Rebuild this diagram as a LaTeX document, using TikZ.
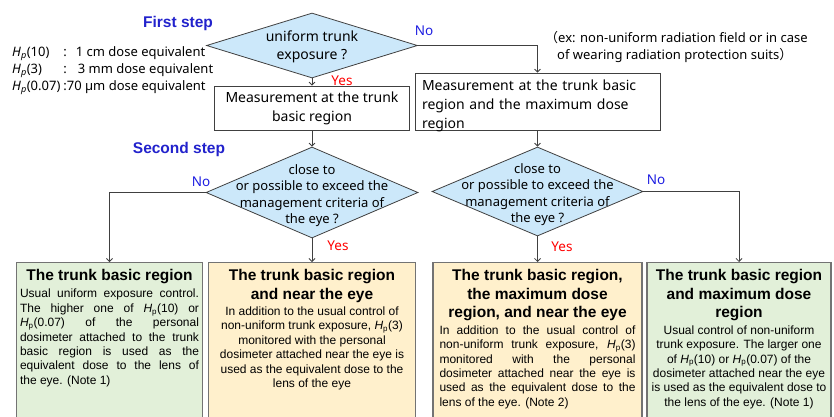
\documentclass[tikz,border=0pt]{standalone}
\usepackage{fontspec}
\setmainfont{Liberation Sans}
\newfontfamily\uifont{Noto Sans}
\newfontfamily\cjk{Noto Sans CJK JP}
\usetikzlibrary{shapes.geometric}
\usetikzlibrary{arrows.meta, positioning}

\definecolor{stepblue}{RGB}{34,34,204}
\definecolor{noblue}{RGB}{30,30,225}
\definecolor{yesred}{RGB}{255,0,0}
\definecolor{qfill}{RGB}{204,232,250}
\definecolor{greenfill}{RGB}{226,240,217}
\definecolor{creamfill}{RGB}{255,240,204}
\definecolor{linegray}{RGB}{64,64,64}
\definecolor{boxgray}{RGB}{115,115,115}

\newcommand{\Hp}{\textit{H}\textsubscript{p}}
\newcommand{\Hpi}{\textit{H\textsubscript{p}}}

\tikzset{
  steplabel/.style={font=\fontsize{15.5}{18}\selectfont\bfseries, text=stepblue, inner sep=0pt},
  decision/.style={diamond, draw=linegray, fill=qfill, line width=0.8pt, inner sep=0pt},
  qtext/.style={font=\uifont\fontsize{13}{16.5}\selectfont, align=center, inner sep=0pt},
  measurebox/.style={rectangle, draw=linegray, line width=0.8pt, inner sep=0pt,
    font=\uifont\fontsize{14}{19}\selectfont},
  resultbox/.style={rectangle, draw=boxgray, line width=1.1pt, anchor=north, minimum height=165pt},
  titletext/.style={font=\fontsize{15.5}{18.7}\selectfont\bfseries, align=center, inner sep=0pt},
  bodytext/.style={font=\fontsize{12}{14.4}\selectfont, inner sep=0pt},
  flow/.style={draw=linegray, line width=0.8pt, -{Straight Barb[length=3pt,width=6pt]}},
  yeslbl/.style={font=\uifont\fontsize{13.5}{16}\selectfont, text=yesred, inner sep=0pt},
  nolbl/.style={font=\uifont\fontsize{13.5}{16}\selectfont, text=noblue, inner sep=0pt},
  sidetext/.style={font=\uifont\fontsize{13}{17}\selectfont, inner sep=0pt, anchor=west}
}

\begin{document}
\begin{tikzpicture}[x=1pt, y=-1pt]
\useasboundingbox (0,0) rectangle (834,416);

% first step
\node[steplabel] (S1) at (178,23) {First step};
\node[decision, minimum width=211pt, minimum height=65pt] (Q1) at (312,45.5) {};
\node[qtext, font=\uifont\fontsize{14}{18}\selectfont] (Q1t) at ([yshift=-1.5pt]Q1.center) {uniform trunk\\exposure ?};

\node[sidetext] (L) at (12,70) {%
  \begin{tabular}{@{}l@{\hspace{3pt}}l@{}}
  \Hpi(10) & :\hspace{9pt}1 cm dose equivalent\\
  \Hpi(3) & :\hspace{11pt}3 mm dose equivalent\\
  \Hpi(0.07) & :70 µm dose equivalent
  \end{tabular}};
\node[sidetext, align=left] (X) at (545,46.5) {{\cjk （}ex: non-uniform radiation field or in case\\
  \hspace*{12pt}of wearing radiation protection suits{\cjk ）}};

\node[measurebox, minimum width=195pt, minimum height=44pt, align=center] (M1) at (312,108) {Measurement at the trunk\\basic region};
\node[measurebox, minimum width=245pt, minimum height=57pt] (M2) at (537.5,101.5) {};
\node[measurebox, draw=none, text width=231pt, align=left] (M2t) at ([yshift=-4pt]M2.center) {Measurement at the trunk basic\\region and the maximum dose\\region};

\draw[flow] (Q1.south) -- (M1.north);
\node[yeslbl] (Y1) at (342,81) {Yes};
\draw[flow] (Q1.east) -| (M2.north);
\node[nolbl] (N1) at (424,31) {No};

% second step
\node[steplabel] (S2) at (179,149) {Second step};
\node[decision, minimum width=212pt, minimum height=91pt] (Q2) at (312,192.5) {};
\node[qtext] (Q2t) at ([yshift=-3pt]Q2.center) {close to\\or possible to exceed the\\management criteria of\\the eye ?};
\node[decision, minimum width=211pt, minimum height=89pt] (Q3) at (537.5,191.5) {};
\node[qtext] (Q3t) at ([yshift=-3pt]Q3.center) {close to\\or possible to exceed the\\management criteria of\\the eye ?};

\draw[flow] (M1.south) -- (Q2.north);
\draw[flow] (M2.south) -- (Q3.north);

\node[resultbox, fill=greenfill, minimum width=186pt] (A) at (109.5,262) {};
\node[resultbox, fill=creamfill, minimum width=207pt] (B) at (312,262) {};
\node[resultbox, fill=creamfill, minimum width=209pt] (C) at (537.5,262) {};
\node[resultbox, fill=greenfill, minimum width=184pt] (D) at (739,262) {};

\draw[flow] (Q2.west) -| (A.north);
\node[nolbl] (N2) at (201,182) {No};
\draw[flow] (Q2.south) -- (B.north);
\node[yeslbl] (Y2) at (338,246) {Yes};
\draw[flow] (Q3.east) -| (D.north);
\node[nolbl] (N3) at (656,180) {No};
\draw[flow] (Q3.south) -- (C.north);
\node[yeslbl] (Y3) at (562,247) {Yes};

% results
\node[titletext, below=7pt of A.north] (At) {The trunk basic region};
\node[bodytext, text width=179pt, align=justify, below=5pt of At] (Ab) {Usual uniform exposure control.\linebreak
  The higher one of \Hp(10) or\linebreak \Hp(0.07) of the personal\linebreak
  dosimeter attached to the trunk\linebreak basic region is used as the\linebreak
  equivalent dose to the lens of\linebreak the eye. (Note 1)};

\node[titletext, below=7pt of B.north] (Bt) {The trunk basic region\\and near the eye};
\node[bodytext, align=center, below=4pt of Bt] (Bb) {In addition to the usual control of\\
  non-uniform trunk exposure, \Hp(3)\\monitored with the personal\\
  dosimeter attached near the eye is\\used as the equivalent dose to the\\lens of the eye};

\node[titletext, below=7pt of C.north] (Ct) {The trunk basic region,\\the maximum dose\\region, and near the eye};
\node[bodytext, text width=196pt, align=justify, below=4pt of Ct] (Cb) {In addition to the usual control of\linebreak
  non-uniform trunk exposure, \Hp(3)\linebreak monitored with the personal\linebreak
  dosimeter attached near the eye is\linebreak used as the equivalent dose to the\linebreak
  lens of the eye. (Note 2)};

\node[titletext, below=7pt of D.north] (Dt) {The trunk basic region\\and maximum dose\\region};
\node[bodytext, align=center, below=4pt of Dt] (Db) {Usual control of non-uniform\\
  trunk exposure. The larger one\\of \Hp(10) or \Hp(0.07) of the\\
  dosimeter attached near the eye\\is used as the equivalent dose to\\the lens of the eye. (Note 1)};

\end{tikzpicture}
\end{document}
